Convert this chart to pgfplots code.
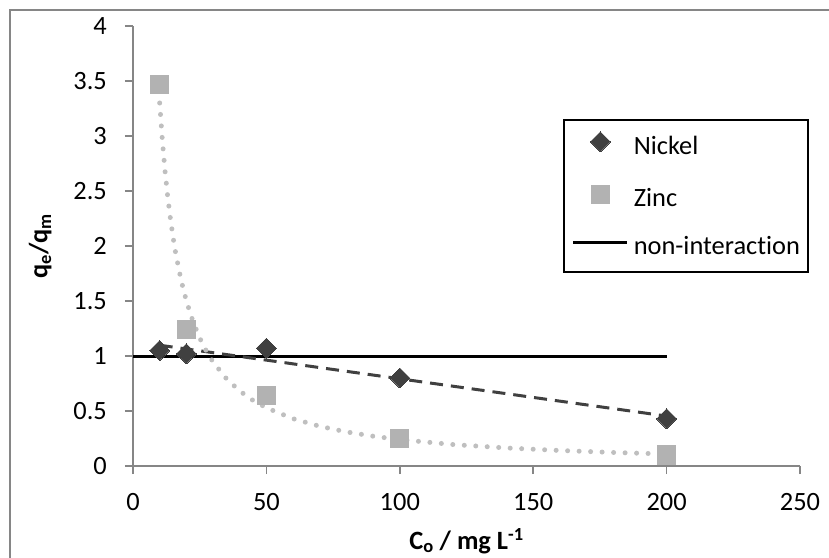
\documentclass[border=0pt]{standalone}
\usepackage{fontspec}
\setmainfont{Carlito}[Ligatures=NoCommon]
\usepackage{pgfplots}
\pgfplotsset{compat=1.18}

\definecolor{axisgray}{RGB}{134,134,134}
\definecolor{nickel}{RGB}{64,64,64}
\definecolor{zinc}{RGB}{178,178,178}
\definecolor{zinctrend}{RGB}{191,191,191}

\newcommand{\chartfont}{\fontsize{26.5}{31}\selectfont}

\begin{document}
\begin{tikzpicture}
\useasboundingbox (0bp,0bp) rectangle (829bp,558bp);
\draw[axisgray, line width=2bp] (10bp,-20bp) -- (10bp,548bp) -- (850bp,548bp);
\begin{axis}[
  at={(133bp,92bp)}, anchor=south west,
  scale only axis,
  width=667bp, height=440bp,
  xmin=0, xmax=250, ymin=0, ymax=4,
  xtick={0,50,...,250},
  ytick={0,0.5,...,4},
  axis x line*=bottom, axis y line*=left,
  x axis line style={-}, y axis line style={-},
  axis line style={axisgray, line width=1.5bp},
  tick align=outside,
  major tick length=8bp,
  tick style={axisgray, line width=1.5bp},
  /pgf/number format/assume math mode=true,
  tick label style={font=\chartfont},
  label style={font=\chartfont},
  yticklabel style={anchor=east, inner sep=0pt, xshift=-18bp},
  xticklabel style={anchor=north, inner sep=0pt, yshift=-19bp},
  ylabel={\textbf{q\textsubscript{e}/q\textsubscript{m}}},
  xlabel={\textbf{C\textsubscript{o} / mg L\textsuperscript{-1}}},
  ylabel style={at={(axis description cs:-0.139,0.5)}, anchor=center},
  xlabel style={at={(axis description cs:0.5,-0.17)}, anchor=center},
  clip=false,
  legend image code/.code={\draw[#1] plot coordinates {(0bp,6.5bp) (27bp,6.5bp) (54bp,6.5bp)};},
  legend style={at={(rel axis cs:0.6447,0.7886)}, anchor=north west,
    draw=black, line width=1.5bp, fill=white, font=\chartfont,
    inner xsep=8bp, inner ysep=12bp, row sep=26bp, column sep=0bp,
    nodes={inner sep=0pt, text height=17bp, text depth=5bp}},
  legend cell align=left,
]
\addlegendimage{only marks, mark=square*, mark size=7.07bp, mark options={rotate=45, fill=nickel, draw=nickel, line width=0pt}, mark repeat=2, mark phase=2}
\addlegendentry{\hspace{5bp}Nickel}
\addlegendimage{only marks, mark=square*, mark size=9bp, mark options={fill=zinc, draw=zinc, line width=0pt}, mark repeat=2, mark phase=2}
\addlegendentry{\hspace{5bp}Zinc}
\addlegendimage{black, line width=3bp}
\addlegendentry{\hspace{5bp}non-interaction}

% non-interaction reference line
\addplot[black, line width=3bp, forget plot] coordinates {(0,1) (200,1)};

% measured points
\addplot[only marks, mark=square*, mark size=7.07bp, mark options={rotate=45, fill=nickel, draw=nickel, line width=0pt}, forget plot]
  coordinates {(10,1.05) (20,1.02) (50,1.07) (100,0.80) (200,0.43)};
\addplot[only marks, mark=square*, mark size=9bp, mark options={fill=zinc, draw=zinc, line width=0pt}, forget plot]
  coordinates {(10,3.47) (20,1.24) (50,0.64) (100,0.25) (200,0.10)};

% trend lines
\addplot[nickel, line width=3bp, dash pattern=on 13bp off 8bp, forget plot]
  coordinates {(10,1.098) (200,0.454)};
\addplot[zinctrend, line width=5bp, line cap=round, dash pattern=on 0bp off 11.5bp, forget plot]
  coordinates {
  (10,3.300) (11,2.963) (12,2.683) (13,2.450) (14,2.252) (15,2.082)
  (16,1.934) (18,1.692) (20,1.501) (22.5,1.312) (25,1.164) (27.5,1.044)
  (30,0.946) (35,0.794) (40,0.682) (45,0.596) (50,0.529) (60,0.430)
  (70,0.361) (80,0.310) (90,0.271) (100,0.240) (120,0.195) (140,0.164)
  (160,0.141) (180,0.123) (200,0.109)};
\end{axis}
\end{tikzpicture}
\end{document}
